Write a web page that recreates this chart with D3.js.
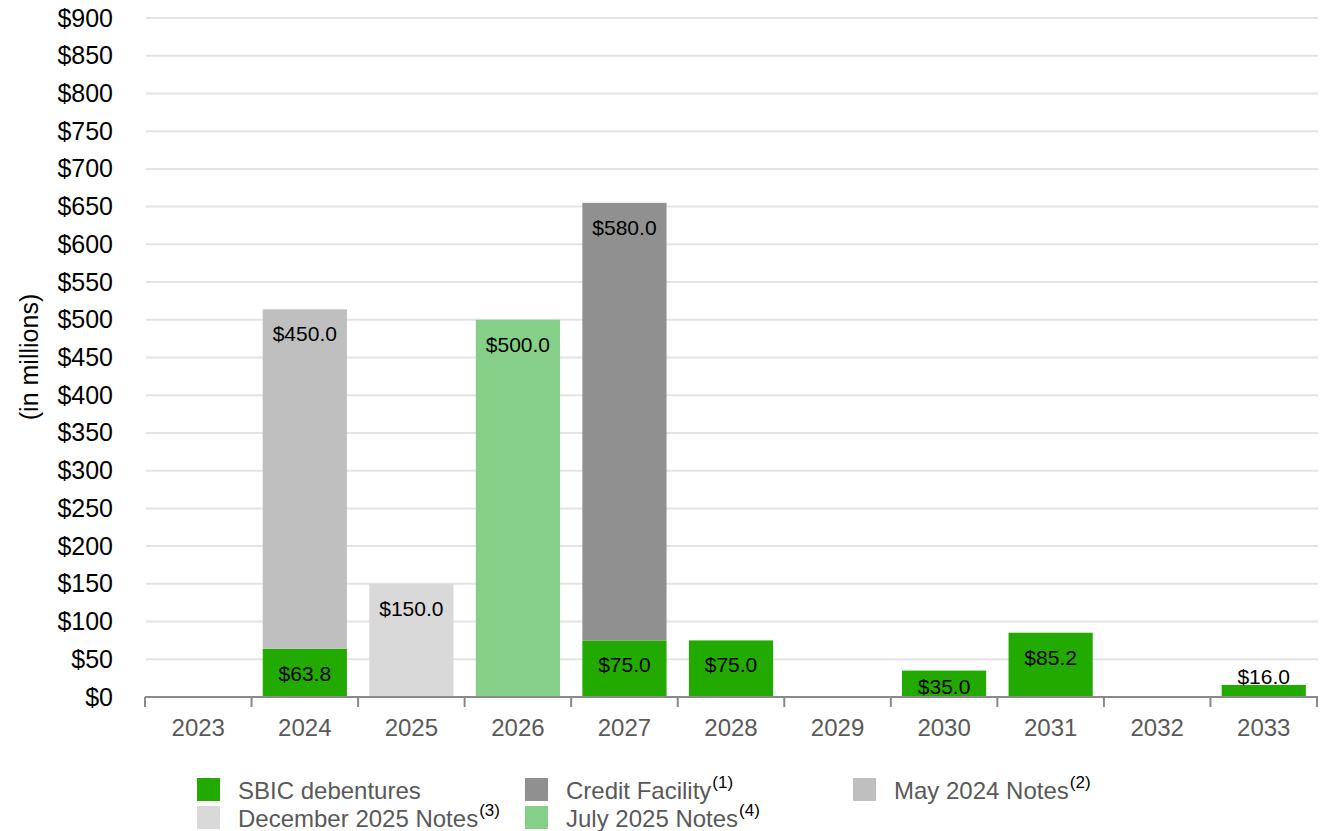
<!DOCTYPE html>
<html>
<head>
	<meta charset="utf-8">
	<title>Debt maturities</title>
	<script type="text/javascript" src="https://cdn.jsdelivr.net/npm/d3@7"></script>
	<style type="text/css">
		body { margin: 0; background: #fff; }
		text { font-family: "Liberation Sans", Arial, sans-serif; }
	</style>
</head>
<body>
	<script type="text/javascript">
		// data ($ millions)
		var years = ["2023","2024","2025","2026","2027","2028","2029","2030","2031","2032","2033"];
		var sbic =   [0, 63.8, 0, 0, 75.0, 75.0, 0, 35.0, 85.2, 0, 16.0];
		var credit = [0, 0, 0, 0, 580.0, 0, 0, 0, 0, 0, 0];
		var may24 =  [0, 450.0, 0, 0, 0, 0, 0, 0, 0, 0, 0];
		var dec25 =  [0, 0, 150.0, 0, 0, 0, 0, 0, 0, 0, 0];
		var jul25 =  [0, 0, 0, 500.0, 0, 0, 0, 0, 0, 0, 0];
		var yTicks = [0,50,100,150,200,250,300,350,400,450,500,550,600,650,700,750,800,850,900];

		var seriesNames = ["SBIC debentures", "Credit Facility", "May 2024 Notes", "December 2025 Notes", "July 2025 Notes"];
		var seriesNotes = ["", "(1)", "(2)", "(3)", "(4)"];
		var seriesColors = ["#22aa00", "#909090", "#bfbfbf", "#d9d9d9", "#85cf88"];
		// stacking order: SBIC at bottom, notes/facility above
		var stackOrder = [sbic, credit, may24, dec25, jul25];

		var width = 1321, height = 831;
		var plotLeft = 145, plotRight = 1317, plotTop = 18, plotBottom = 697;

		var svg = d3.select("body").append("svg")
			.attr("width", width)
			.attr("height", height);

		var x = d3.scaleBand()
			.domain(years)
			.range([plotLeft, plotRight])
			.paddingInner(0.21)
			.paddingOuter(0.105);

		var y = d3.scaleLinear()
			.domain([0, 900])
			.range([plotBottom, plotTop]);

		// gridlines
		svg.append("g")
			.selectAll("line")
			.data(yTicks.slice(1))
			.enter()
			.append("line")
			  .attr("x1", plotLeft + 1)
			  .attr("x2", plotRight + 1)
			  .attr("y1", function(d){ return y(d); })
			  .attr("y2", function(d){ return y(d); })
			  .attr("stroke", "#e4e4e4")
			  .attr("stroke-width", 2);

		// y axis labels
		var yAxis = svg.append("g")
			.attr("transform", "translate(" + 113 + ",0)")
			.call(d3.axisLeft(y).tickValues(yTicks).tickSize(0).tickPadding(0)
				.tickFormat(function(d){ return "$" + d; }));
		yAxis.select(".domain").remove();
		yAxis.selectAll("text")
			.attr("font-size", "25px")
			.attr("fill", "#000")
			.attr("font-family", "Liberation Sans, Arial, sans-serif");

		svg.append("text")
			.attr("transform", "translate(38,357) rotate(-90)")
			.attr("text-anchor", "middle")
			.attr("font-size", "25px")
			.attr("fill", "#000")
			.text("(in millions)");

		// stacked bars
		var rows = years.map(function(yr, i){
			var o = {year: yr};
			stackOrder.forEach(function(s, k){ o["s" + k] = s[i]; });
			return o;
		});
		var stack = d3.stack().keys(stackOrder.map(function(s, k){ return "s" + k; }));
		var layers = stack(rows);

		var bars = svg.append("g");
		layers.forEach(function(layer, k){
			var segs = layer.filter(function(d){ return d[1] - d[0] > 0; });
			bars.selectAll(".seg" + k)
				.data(segs)
				.enter()
				.append("rect")
				  .attr("x", function(d){ return x(d.data.year); })
				  .attr("width", x.bandwidth())
				  .attr("y", function(d){ return y(d[1]); })
				  .attr("height", function(d){ return y(d[0]) - y(d[1]); })
				  .attr("fill", seriesColors[k]);

			bars.selectAll(".lab" + k)
				.data(segs)
				.enter()
				.append("text")
				  .attr("x", function(d){ return x(d.data.year) + x.bandwidth() / 2; })
				  .attr("y", function(d){
				    var t = y(d[1]), b = y(d[0]);
				    if (b - t < 20) return t - 1;
				    return Math.min(t + 32, b - 3);
				  })
				  .attr("text-anchor", "middle")
				  .attr("font-size", "21px")
				  .attr("fill", "#000")
				  .text(function(d){ return "$" + (d[1] - d[0]).toFixed(1); });
		});

		// x axis
		var xAxis = svg.append("g")
			.attr("transform", "translate(0," + plotBottom + ")");
		xAxis.append("line")
			.attr("x1", plotLeft).attr("x2", plotRight + 1)
			.attr("stroke", "#898989").attr("stroke-width", 2);
		var step = x.step();
		var bounds = d3.range(years.length + 1).map(function(i){ return plotLeft + i * step; });
		xAxis.selectAll(".tk")
			.data(bounds)
			.enter()
			.append("line")
			  .attr("x1", function(d){ return d; })
			  .attr("x2", function(d){ return d; })
			  .attr("y1", 0).attr("y2", 10)
			  .attr("stroke", "#898989").attr("stroke-width", 2);
		xAxis.selectAll(".yl")
			.data(years)
			.enter()
			.append("text")
			  .attr("x", function(d){ return x(d) + x.bandwidth() / 2; })
			  .attr("y", 39)
			  .attr("text-anchor", "middle")
			  .attr("font-size", "24px")
			  .attr("fill", "#595959")
			  .text(function(d){ return d; });

		// legend
		var legendPos = [[197,778],[525,778],[853,778],[197,806],[525,806]];
		var legend = svg.append("g");
		seriesNames.forEach(function(name, k){
			var p = legendPos[k];
			legend.append("rect")
				.attr("x", p[0]).attr("y", p[1])
				.attr("width", 23).attr("height", 23)
				.attr("fill", seriesColors[k]);
			var t = legend.append("text")
				.attr("x", p[0] + 41)
				.attr("y", p[1] + 21)
				.attr("font-size", "24px")
				.attr("fill", "#595959")
				.text(name);
			if (seriesNotes[k]) {
				t.append("tspan")
					.attr("dy", -11)
					.attr("dx", 1)
					.attr("font-size", "17px")
					.attr("fill", "#000")
					.text(seriesNotes[k]);
			}
		});
	</script>
</body>
</html>
